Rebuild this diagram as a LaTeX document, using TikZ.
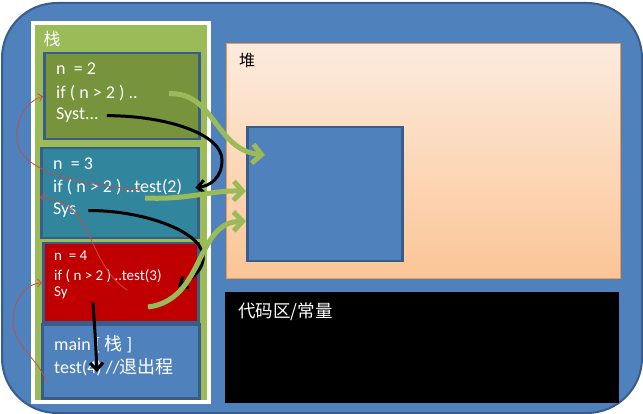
\documentclass[tikz,border=0pt]{standalone}
\usepackage{fontspec}
\setmainfont{Carlito}
\newfontfamily\cjk{Noto Sans CJK SC}
\usepackage{tikz}
\usetikzlibrary{arrows.meta,calc}
\definecolor{memblue}{HTML}{4F81BD}
\definecolor{memedge}{HTML}{385D8A}
\definecolor{stackgr}{HTML}{9BBB59}
\definecolor{frameA}{HTML}{77933C}
\definecolor{frameB}{HTML}{31859C}
\definecolor{frameC}{HTML}{C00000}
\definecolor{heaptop}{HTML}{FDEBDD}
\definecolor{heapbot}{HTML}{FBC596}
\definecolor{heapedge}{HTML}{F79646}
\definecolor{retred}{HTML}{C0504D}
\begin{document}
\begin{tikzpicture}[x=1pt,y=-1pt,
    frame/.style={draw=memedge,line width=2.5pt,anchor=north west,inner sep=0pt},
    txt/.style={text=white,inner sep=0pt,anchor=base west,font=\fontsize{18}{22}\selectfont},
    smalltxt/.style={txt,font=\fontsize{15}{18}\selectfont},
    callarr/.style={draw=black,line width=3pt,-{Straight Barb[length=7pt,width=13pt]}},
    refarr/.style={draw=stackgr,line width=5pt,-{Straight Barb[length=9pt,width=19pt]}},
    retarr/.style={draw=retred,line width=0.8pt,-{Straight Barb[length=4pt,width=8pt]}}]
  \useasboundingbox (0,0) rectangle (643,414);
  % memory
  \node[fill=memblue,draw=memedge,line width=2pt,rounded corners=55pt,anchor=north west,
        minimum width=640pt,minimum height=410pt,inner sep=0pt] (mem) at (1,2) {};
  % stack
  \node[fill=stackgr,draw=white,line width=4pt,anchor=north west,
        minimum width=176pt,minimum height=379pt,inner sep=0pt] (stack) at (31,21) {};
  \node[text=white,font=\cjk\fontsize{17}{20}\selectfont,inner sep=0pt] (stacklbl) at (52,39) {栈};
  \node[frame,fill=frameA,minimum width=155pt,minimum height=86pt] (f1) at (43,52) {};
  \node[frame,fill=frameB,minimum width=157pt,minimum height=90pt] (f2) at (40,147) {};
  \node[frame,fill=frameC,minimum width=155pt,minimum height=79pt] (f3) at (42,242) {};
  \node[frame,fill=memblue,minimum width=157pt,minimum height=74pt] (f4) at (41,323) {};
  % heap and code area
  \node[top color=heaptop,bottom color=heapbot,draw=heapedge,line width=1.2pt,anchor=north west,
        minimum width=394pt,minimum height=235pt,inner sep=0pt] (heap) at (226,43) {};
  \node[anchor=base west,inner sep=0pt,font=\cjk\fontsize{16}{18}\selectfont] (heaplbl) at (239,67) {堆};
  \node[frame,fill=memblue,minimum width=155pt,minimum height=134pt] (obj) at (246,126) {};
  \node[fill=black,anchor=north west,minimum width=394pt,minimum height=111pt,inner sep=0pt] (code) at (225,292) {};
  \node[anchor=base west,inner sep=0pt,text=white,font=\cjk\fontsize{17.5}{20}\selectfont] (codelbl) at (238,318) {代码区/常量};
  % frame texts
  \node[txt] (f1n) at (56,75) {n\ \ = 2};
  \node[txt] (f1if) at (56,99) {if ( n > 2 ) ..};
  \node[txt] (f1sys) at (56,120) {Syst...};
  \node[txt] (f2n) at (53,170) {n\ \ = 3};
  \node[txt] (f2if) at (53,193) {if ( n > 2 ) ..test(2)};
  \node[txt] (f2sys) at (53,215) {Sys};
  \node[smalltxt] (f3n) at (54,261) {n\ \ = 4};
  \node[smalltxt] (f3if) at (54,281) {if ( n > 2 ) ..test(3)};
  \node[smalltxt] (f3sy) at (54,297) {Sy};
  \node[txt] (f4main) at (54,350) {main [ {\cjk 栈} ]};
  \node[txt] (f4test) at (54,373) {test(4) //{\cjk 退出程}};
  % returns
  \draw[retarr] ([shift={(87pt,3pt)}]f2if.base west) .. controls (90,185) and (20,175) .. (17,140)
        .. controls (15,115) and (30,100) .. (f1.west);
  \draw[retarr] ([shift={(73pt,-9pt)}]f3if.base west) .. controls (85,262) and (95,200)
        .. ([yshift=-4pt]f2.west);
  \draw[retarr] ([shift={(6pt,-22pt)}]f4.west) .. controls (40,360) and (12,345) .. (13,320)
        .. controls (14,295) and (30,283) .. (f3.west);
  % calls
  \draw[callarr] ([xshift=8pt]f1sys.east) .. controls (170,116) and (222,135) .. (222,160)
        .. controls (222,178) and (210,186) .. ([xshift=13pt]f2if.east);
  \draw[callarr] ([xshift=12pt]f2sys.east) .. controls (140,210) and (200,230) .. (203,255)
        .. controls (205,270) and (190,280) .. ([shift={(16pt,-10pt)}]f3if.east);
  \draw[callarr] ([shift={(25pt,-9pt)}]f3sy.east) .. controls (95,330) and (96,350)
        .. ([shift={(43pt,1pt)}]f4test.base west);
  % references into the heap
  \draw[refarr] ([xshift=31pt]f1if.east) .. controls (215,92) and (215,150)
        .. ([shift={(19pt,-29pt)}]obj.north west);
  \draw[refarr] ([shift={(92pt,-5pt)}]f2if.base west) .. controls (190,200) and (210,190)
        .. ([yshift=3pt]obj.west);
  \draw[refarr] ([shift={(94pt,-10pt)}]f3sy.base west) .. controls (205,300) and (195,222)
        .. ([yshift=-27pt]obj.west);
\end{tikzpicture}
\end{document}
